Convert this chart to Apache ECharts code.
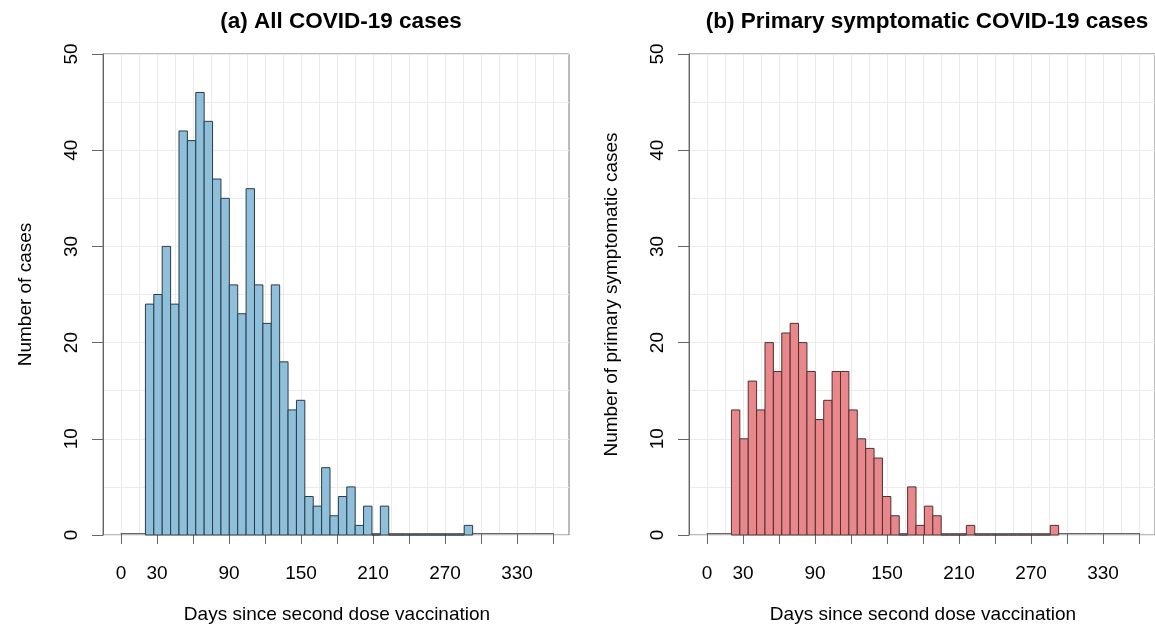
<!DOCTYPE html>
<html>
<head>
<meta charset="utf-8">
<script src="https://cdn.jsdelivr.net/npm/echarts@6/dist/echarts.min.js"></script>
<style>
    html, body { margin: 0; padding: 0; background: #fff; }
    #chart { width: 1155px; height: 629px; }
</style>
</head>
<body>
<div id="chart"></div>
<script>
// bin starts (days), each bin is 7 days wide
var binWidth = 7;
var binStart = [21, 28, 35, 42, 49, 56, 63, 70, 77, 84, 91, 98, 105, 112, 119, 126, 133, 140, 147, 154,
    161, 168, 175, 182, 189, 196, 203, 210, 217, 224, 231, 238, 245, 252, 259, 266, 273, 280, 287];

// (a) all cases
var countsAll = [24, 25, 30, 24, 42, 41, 46, 43, 37, 35, 26, 23, 36, 26, 22, 26, 18, 13, 14, 4,
    3, 7, 2, 4, 5, 1, 3, 0, 3, 0, 0, 0, 0, 0, 0, 0, 0, 0, 1];

// (b) primary symptomatic cases
var countsSymp = [13, 10, 16, 13, 20, 17, 21, 22, 20, 17, 12, 14, 17, 17, 13, 10, 9, 8, 4, 2,
    0, 5, 1, 3, 2, 0, 0, 0, 1, 0, 0, 0, 0, 0, 0, 0, 0, 0, 1];

var xTickLabels = [0, 30, 90, 150, 210, 270, 330];
var titles = ['(a) All COVID-19 cases', '(b) Primary symptomatic COVID-19 cases'];
var yNames = ['Number of cases', 'Number of primary symptomatic cases'];
var xName = 'Days since second dose vaccination';

var font = "'Liberation Sans', Arial, sans-serif";
var gridColor = '#ebebeb';
var axisColor = '#666';

function histData(counts) {
    var d = [];
    for (var i = 0; i < binStart.length; i++) {
        d.push([binStart[i], binStart[i] + binWidth, counts[i]]);
    }
    return d;
}

function histSeries(idx, counts, fill, stroke) {
    return {
        type: 'custom',
        xAxisIndex: idx * 2,
        yAxisIndex: idx * 2,
        data: histData(counts),
        renderItem: function (params, api) {
            var p0 = api.coord([api.value(0), api.value(2)]);
            var p1 = api.coord([api.value(1), 0]);
            return {
                type: 'rect',
                shape: {x: p0[0], y: p0[1], width: p1[0] - p0[0], height: p1[1] - p0[1]},
                style: {fill: fill, stroke: stroke, lineWidth: 1}
            };
        },
        z: 5
    };
}

// panel positions: outer box and inner (0..360 days) area
var panels = [
    {boxLeft: 103, innerLeft: 121},
    {boxLeft: 689, innerLeft: 707}
];
var plotTop = 54, plotHeight = 481;

var grids = [], xAxes = [], yAxes = [], titleList = [];
panels.forEach(function (p, i) {
    grids.push({left: p.boxLeft, top: plotTop, width: 466, height: plotHeight, show: true,
        borderColor: '#777', borderWidth: 1, backgroundColor: 'transparent'});
    grids.push({left: p.innerLeft, top: plotTop, width: 432, height: plotHeight});

    // bars axis (box range)
    xAxes.push({gridIndex: i * 2, type: 'value', min: -14.4, max: 374.4, show: false});
    // visible day axis 0..360
    xAxes.push({
        gridIndex: i * 2 + 1, type: 'value', min: 0, max: 360, interval: 30,
        name: xName, nameLocation: 'middle', nameGap: 72,
        nameTextStyle: {fontFamily: font, fontSize: 19, color: '#000'},
        axisLine: {show: true, onZero: false, lineStyle: {color: axisColor, width: 1}},
        axisTick: {show: true, inside: false, length: 11, lineStyle: {color: axisColor}},
        axisLabel: {
            margin: 31, fontFamily: font, fontSize: 19, color: '#000',
            showMinLabel: true, showMaxLabel: true,
            formatter: function (v) { return xTickLabels.indexOf(v) >= 0 ? String(v) : ''; }
        },
        splitLine: {show: true, lineStyle: {color: gridColor, width: 1}},
        minorTick: {show: false, splitNumber: 2},
        minorSplitLine: {show: true, lineStyle: {color: gridColor, width: 1}}
    });

    yAxes.push({
        gridIndex: i * 2, type: 'value', min: 0, max: 50, interval: 10,
        name: yNames[i], nameLocation: 'middle', nameGap: 68,
        nameTextStyle: {fontFamily: font, fontSize: 19, color: '#000'},
        axisLine: {show: true, onZero: false, lineStyle: {color: axisColor, width: 1}},
        axisTick: {show: true, inside: false, length: 11, lineStyle: {color: axisColor}},
        axisLabel: {margin: 22, rotate: 90, fontFamily: font, fontSize: 19, color: '#000'},
        splitLine: {show: true, lineStyle: {color: gridColor, width: 1}},
        minorTick: {show: false, splitNumber: 2},
        minorSplitLine: {show: true, lineStyle: {color: gridColor, width: 1}}
    });
    yAxes.push({
        gridIndex: i * 2 + 1, type: 'value', min: 0, max: 50, show: false,
        axisLine: {show: false}, axisTick: {show: false}, axisLabel: {show: false}, splitLine: {show: false}
    });

    titleList.push({
        text: titles[i], left: p.boxLeft + 233, top: 5, textAlign: 'center',
        textStyle: {fontFamily: font, fontSize: 22.5, fontWeight: 'bold', color: '#000'}
    });
});

var myChart = echarts.init(document.getElementById('chart'));
myChart.setOption({
    animation: false,
    title: titleList,
    grid: grids,
    xAxis: xAxes,
    yAxis: yAxes,
    series: [
        histSeries(0, countsAll, '#8ebfdb', '#2f3b44'),
        histSeries(1, countsSymp, '#e9878b', '#4a3335')
    ]
});
</script>
</body>
</html>
